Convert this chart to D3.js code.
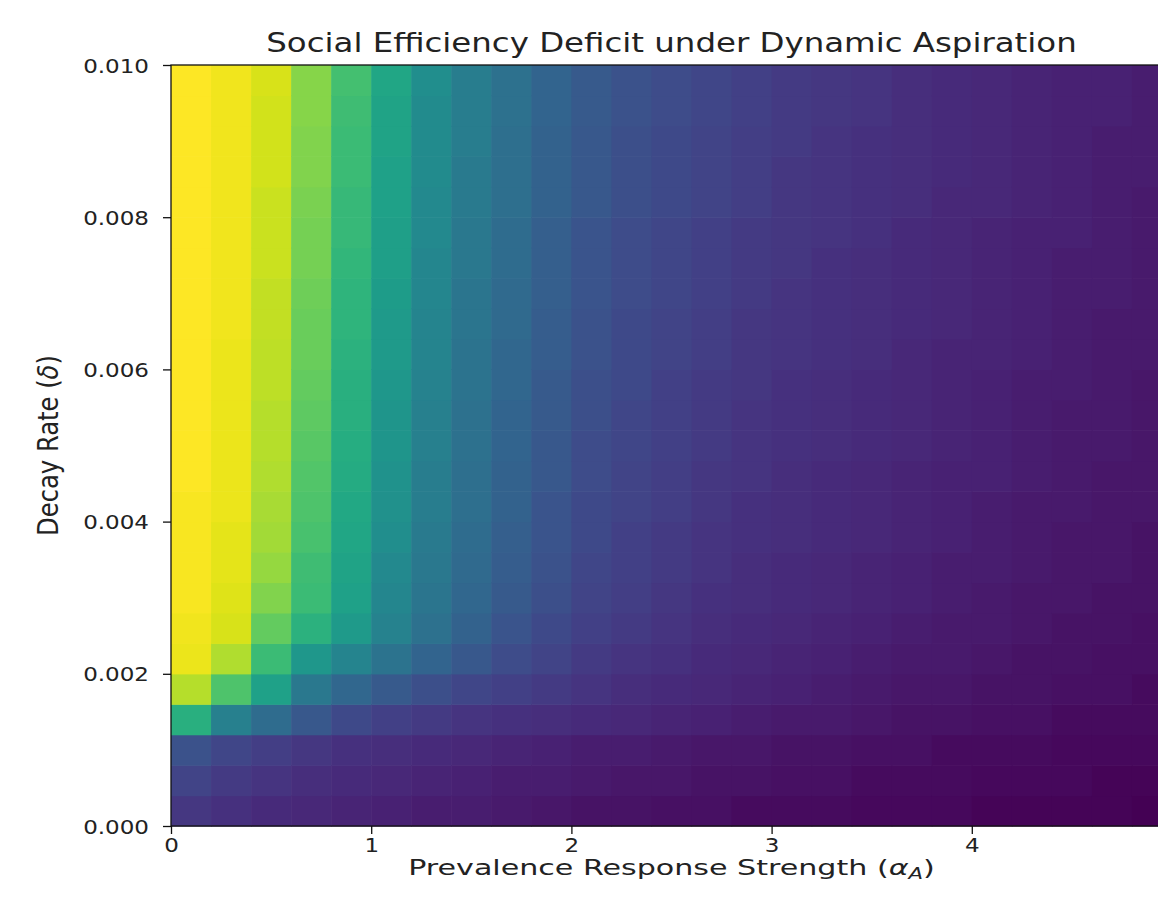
<!DOCTYPE html>
<html>
<head>
<meta charset="utf-8">
<script src="https://cdn.jsdelivr.net/npm/d3@7"></script>
<style>
  body { margin: 0; background: #fff; }
  svg { display: block; font-family: "DejaVu Sans", sans-serif; }
</style>
</head>
<body>
<div id="chart"></div>
<script>
// grid: left edge of every column (alpha) and bottom edge of every row (delta)
var alphaValues = [0.0, 0.2, 0.4, 0.6, 0.8, 1.0, 1.2, 1.4, 1.6, 1.8, 2.0, 2.2, 2.4,
                   2.6, 2.8, 3.0, 3.2, 3.4, 3.6, 3.8, 4.0, 4.2, 4.4, 4.6, 4.8];
var deltaValues = [0.0000, 0.0004, 0.0008, 0.0012, 0.0016, 0.0020, 0.0024, 0.0028, 0.0032,
                   0.0036, 0.0040, 0.0044, 0.0048, 0.0052, 0.0056, 0.0060, 0.0064, 0.0068,
                   0.0072, 0.0076, 0.0080, 0.0084, 0.0088, 0.0092, 0.0096];
var alphaStep = 0.2, deltaStep = 0.0004;

var xTicks = [0, 1, 2, 3, 4, 5];
var yTicks = [0.000, 0.002, 0.004, 0.006, 0.008, 0.010];

// normalised deficit, one array per alpha column, delta ascending
var deficit = [
  [0.16,0.20,0.25,0.63,0.89,0.97,0.98,0.99,0.99,0.99,0.99,1.00,1.00,1.00,1.00,1.00,1.00,1.00,1.00,1.00,1.00,1.00,1.00,1.00,1.00],
  [0.14,0.17,0.21,0.43,0.72,0.88,0.94,0.95,0.96,0.96,0.97,0.97,0.97,0.97,0.97,0.97,0.98,0.98,0.98,0.98,0.98,0.98,0.98,0.98,0.98],
  [0.12,0.15,0.18,0.35,0.57,0.68,0.76,0.81,0.84,0.86,0.87,0.88,0.89,0.89,0.90,0.90,0.91,0.91,0.92,0.92,0.92,0.93,0.93,0.93,0.94],
  [0.11,0.13,0.16,0.27,0.40,0.53,0.64,0.68,0.69,0.71,0.72,0.73,0.74,0.75,0.76,0.77,0.77,0.78,0.79,0.79,0.80,0.81,0.81,0.82,0.82],
  [0.10,0.12,0.14,0.22,0.33,0.45,0.54,0.57,0.58,0.59,0.60,0.61,0.62,0.63,0.63,0.64,0.65,0.65,0.66,0.67,0.67,0.68,0.68,0.69,0.70],
  [0.09,0.11,0.13,0.19,0.28,0.38,0.44,0.46,0.47,0.49,0.50,0.51,0.52,0.52,0.53,0.54,0.54,0.55,0.56,0.56,0.57,0.57,0.58,0.58,0.59],
  [0.08,0.10,0.12,0.17,0.24,0.32,0.37,0.39,0.40,0.41,0.42,0.42,0.43,0.43,0.44,0.45,0.45,0.46,0.46,0.47,0.47,0.48,0.48,0.48,0.49],
  [0.08,0.09,0.11,0.15,0.21,0.27,0.31,0.33,0.34,0.35,0.36,0.36,0.37,0.37,0.38,0.38,0.39,0.39,0.40,0.40,0.41,0.41,0.42,0.42,0.42],
  [0.07,0.08,0.10,0.14,0.19,0.23,0.26,0.28,0.29,0.30,0.31,0.31,0.32,0.32,0.33,0.33,0.34,0.34,0.35,0.35,0.36,0.36,0.36,0.37,0.37],
  [0.06,0.08,0.09,0.13,0.17,0.20,0.22,0.24,0.25,0.26,0.26,0.27,0.27,0.28,0.28,0.29,0.29,0.30,0.30,0.30,0.31,0.31,0.31,0.32,0.32],
  [0.05,0.07,0.08,0.12,0.15,0.17,0.19,0.20,0.21,0.22,0.22,0.23,0.23,0.24,0.24,0.25,0.25,0.26,0.26,0.26,0.27,0.27,0.27,0.28,0.28],
  [0.05,0.06,0.08,0.11,0.13,0.15,0.17,0.18,0.19,0.19,0.20,0.20,0.21,0.21,0.22,0.22,0.22,0.23,0.23,0.23,0.24,0.24,0.24,0.25,0.25],
  [0.04,0.06,0.07,0.10,0.12,0.14,0.15,0.16,0.17,0.17,0.18,0.18,0.19,0.19,0.19,0.20,0.20,0.21,0.21,0.21,0.22,0.22,0.22,0.23,0.23],
  [0.04,0.05,0.06,0.09,0.11,0.12,0.13,0.14,0.15,0.15,0.16,0.16,0.17,0.17,0.17,0.18,0.18,0.19,0.19,0.19,0.20,0.20,0.20,0.21,0.21],
  [0.03,0.05,0.06,0.08,0.10,0.11,0.12,0.13,0.13,0.14,0.14,0.15,0.15,0.15,0.16,0.16,0.16,0.17,0.17,0.17,0.18,0.18,0.18,0.19,0.19],
  [0.03,0.04,0.05,0.07,0.09,0.10,0.11,0.12,0.12,0.13,0.13,0.13,0.14,0.14,0.14,0.15,0.15,0.15,0.16,0.16,0.16,0.16,0.17,0.17,0.17],
  [0.03,0.04,0.05,0.07,0.08,0.09,0.10,0.11,0.11,0.12,0.12,0.12,0.13,0.13,0.13,0.14,0.14,0.14,0.14,0.15,0.15,0.15,0.15,0.16,0.16],
  [0.02,0.03,0.04,0.06,0.07,0.08,0.09,0.10,0.10,0.11,0.11,0.11,0.12,0.12,0.12,0.13,0.13,0.13,0.13,0.14,0.14,0.14,0.14,0.15,0.15],
  [0.02,0.03,0.04,0.05,0.06,0.07,0.08,0.09,0.09,0.10,0.10,0.10,0.11,0.11,0.11,0.11,0.12,0.12,0.12,0.12,0.13,0.13,0.13,0.13,0.13],
  [0.02,0.03,0.03,0.05,0.06,0.07,0.07,0.08,0.08,0.09,0.09,0.09,0.10,0.10,0.10,0.10,0.11,0.11,0.11,0.11,0.11,0.12,0.12,0.12,0.12],
  [0.01,0.02,0.03,0.04,0.05,0.06,0.07,0.07,0.08,0.08,0.08,0.09,0.09,0.09,0.09,0.10,0.10,0.10,0.10,0.10,0.11,0.11,0.11,0.11,0.11],
  [0.01,0.02,0.03,0.04,0.05,0.05,0.06,0.06,0.07,0.07,0.07,0.08,0.08,0.08,0.08,0.09,0.09,0.09,0.09,0.09,0.10,0.10,0.10,0.10,0.10],
  [0.01,0.02,0.02,0.03,0.04,0.05,0.05,0.06,0.06,0.06,0.07,0.07,0.07,0.07,0.08,0.08,0.08,0.08,0.08,0.09,0.09,0.09,0.09,0.09,0.09],
  [0.01,0.01,0.02,0.03,0.04,0.04,0.05,0.05,0.06,0.06,0.06,0.06,0.07,0.07,0.07,0.07,0.07,0.08,0.08,0.08,0.08,0.08,0.08,0.09,0.09],
  [0.00,0.01,0.02,0.03,0.03,0.04,0.04,0.05,0.05,0.05,0.06,0.06,0.06,0.06,0.06,0.07,0.07,0.07,0.07,0.07,0.07,0.08,0.08,0.08,0.08]
];

var width = 1158, height = 901,
    plot = { left: 171, right: 1172, top: 65, bottom: 826 },
    stretch = 1.18,           // the reference text is a bit wider than tall
    textColor = "#222";

var x = d3.scaleLinear().domain([0, 5]).range([plot.left, plot.right]);
var y = d3.scaleLinear().domain([0, 0.010]).range([plot.bottom, plot.top]);
var color = d3.scaleSequential(d3.interpolateViridis).domain([0, 1]);

var cells = [];
alphaValues.forEach(function(a, i) {
    deltaValues.forEach(function(d, j) {
        cells.push({ alpha: a, delta: d, value: deficit[i][j] });
    });
});

var svg = d3.select("#chart").append("svg")
    .attr("width", width)
    .attr("height", height);

svg.append("g")
    .selectAll("rect")
    .data(cells)
    .enter().append("rect")
    .attr("x", function(d) { return x(d.alpha); })
    .attr("y", function(d) { return y(d.delta + deltaStep); })
    .attr("width", function(d) { return x(d.alpha + alphaStep) - x(d.alpha) + 0.6; })
    .attr("height", function(d) { return y(d.delta) - y(d.delta + deltaStep) + 0.6; })
    .style("fill", function(d) { return color(d.value); });

// frame
svg.append("rect")
    .attr("x", plot.left)
    .attr("y", plot.top)
    .attr("width", plot.right - plot.left)
    .attr("height", plot.bottom - plot.top)
    .attr("fill", "none")
    .attr("stroke", "#111")
    .attr("stroke-width", 1.3);

var xAxis = svg.append("g")
    .attr("transform", "translate(0," + plot.bottom + ")")
    .call(d3.axisBottom(x).tickValues(xTicks).tickFormat(d3.format("d")).tickSize(8).tickSizeOuter(0));

var yAxis = svg.append("g")
    .attr("transform", "translate(" + plot.left + ",0)")
    .call(d3.axisLeft(y).tickValues(yTicks).tickFormat(d3.format(".3f")).tickSize(8).tickSizeOuter(0));

[xAxis, yAxis].forEach(function(ax) {
    ax.select(".domain").remove();
    ax.selectAll("line").attr("stroke", "#111").attr("stroke-width", 1.3);
    ax.selectAll("text")
        .attr("fill", textColor)
        .style("font-family", "'DejaVu Sans', sans-serif")
        .style("font-size", "19.5px");
});

xAxis.selectAll("text")
    .attr("y", 0).attr("dy", null)
    .attr("transform", "translate(0,26) scale(" + stretch + ",1)");

yAxis.selectAll("text")
    .attr("x", 0).attr("dy", null)
    .attr("transform", "translate(-22,7) scale(" + stretch + ",1)");

// squeeze a text element horizontally so it spans the given width
function fitWidth(sel, target) {
    return target / sel.node().getComputedTextLength();
}

var title = svg.append("text")
    .attr("text-anchor", "middle")
    .attr("fill", textColor)
    .style("font-size", "26px")
    .text("Social Efficiency Deficit under Dynamic Aspiration");
title.attr("transform", "translate(" + (plot.left + plot.right) / 2 + ",52) scale(" + fitWidth(title, 811) + ",1)");

var xLabel = svg.append("text")
    .attr("text-anchor", "middle")
    .attr("fill", textColor)
    .style("font-size", "22px");
xLabel.append("tspan").text("Prevalence Response Strength (");
xLabel.append("tspan").style("font-style", "italic").text("α");
xLabel.append("tspan").style("font-style", "italic").style("font-size", "15.5px").attr("dy", 4).text("A");
xLabel.append("tspan").attr("dy", -4).text(")");
xLabel.attr("transform", "translate(" + (plot.left + plot.right) / 2 + ",875) scale(" + fitWidth(xLabel, 527) + ",1)");

var yLabel = svg.append("text")
    .attr("text-anchor", "middle")
    .attr("fill", textColor)
    .style("font-size", "22px");
yLabel.append("tspan").text("Decay Rate (");
yLabel.append("tspan").style("font-style", "italic").text("δ");
yLabel.append("tspan").text(")");
yLabel.attr("transform", "translate(58," + (plot.top + plot.bottom) / 2 + ") scale(1.25,1) rotate(-90) scale(" + fitWidth(yLabel, 181) + ",1)");
</script>
</body>
</html>
